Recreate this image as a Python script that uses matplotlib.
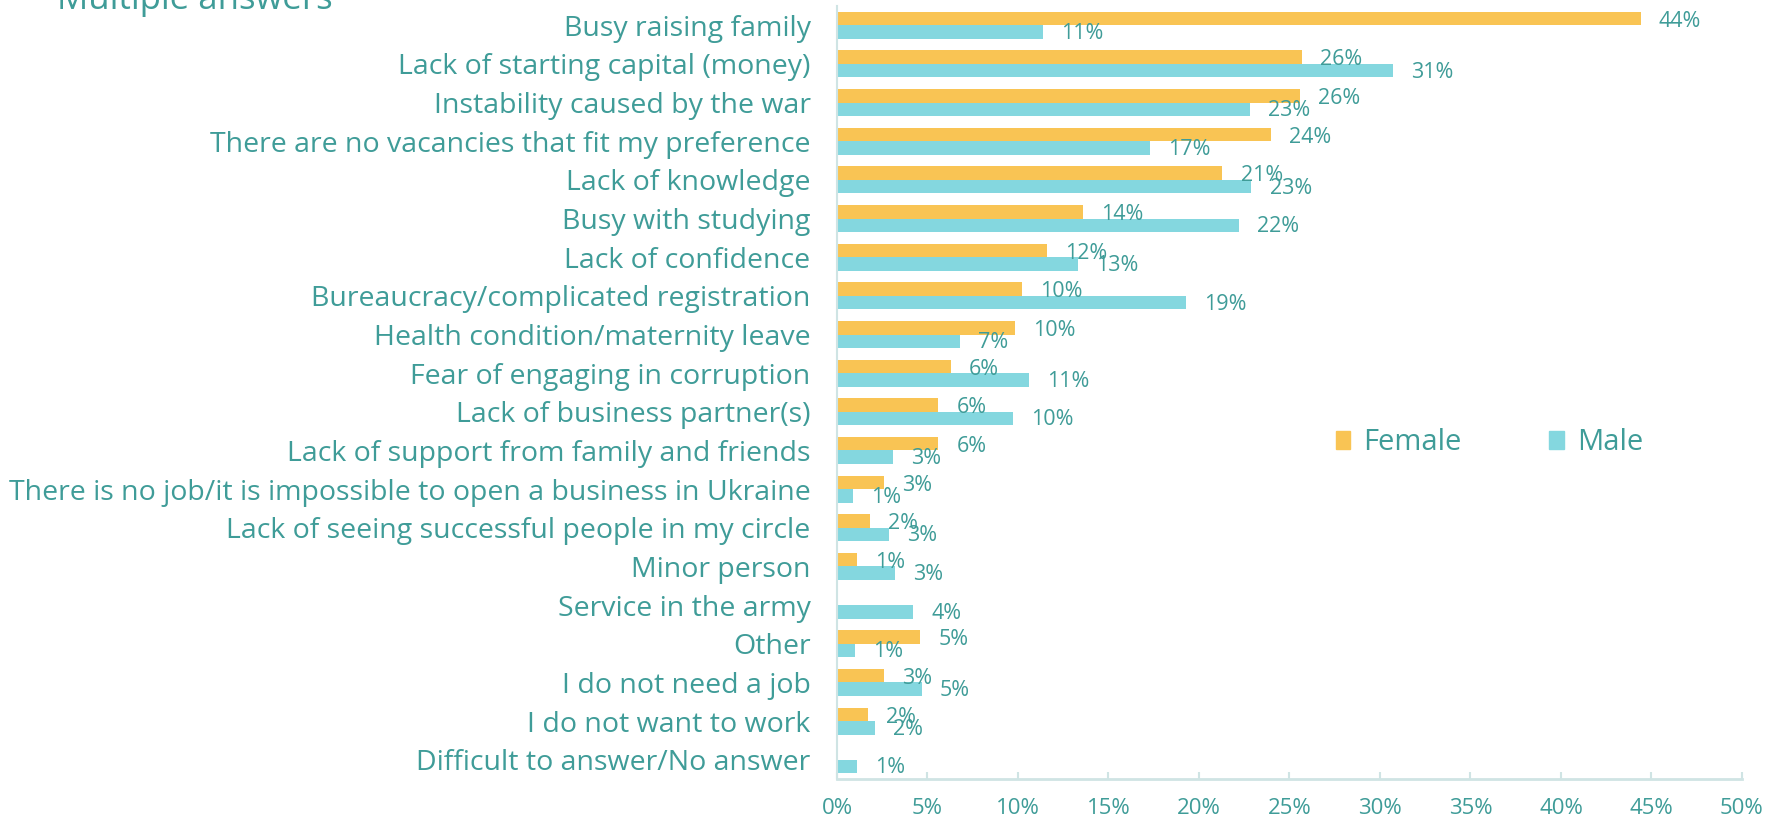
import matplotlib
matplotlib.use("Agg")
import matplotlib.pyplot as plt
from matplotlib.patches import Patch
import numpy as np

categories = [
    "Busy raising family",
    "Lack of starting capital (money)",
    "Instability caused by the war",
    "There are no vacancies that fit my preference",
    "Lack of knowledge",
    "Busy with studying",
    "Lack of confidence",
    "Bureaucracy/complicated registration",
    "Health condition/maternity leave",
    "Fear of engaging in corruption",
    "Lack of business partner(s)",
    "Lack of support from family and friends",
    "There is no job/it is impossible to open a business in Ukraine",
    "Lack of seeing successful people in my circle",
    "Minor person",
    "Service in the army",
    "Other",
    "I do not need a job",
    "I do not want to work",
    "Difficult to answer/No answer",
]
female = [44.4, 25.7, 25.6, 24.0, 21.3, 13.6, 11.6, 10.2, 9.85, 6.3,
          5.6, 5.6, 2.6, 1.8, 1.1, None, 4.6, 2.6, 1.7, None]
male = [11.4, 30.7, 22.8, 17.3, 22.9, 22.2, 13.3, 19.3, 6.8, 10.6,
        9.7, 3.1, 0.9, 2.9, 3.2, 4.2, 1.0, 4.7, 2.1, 1.1]
series_names = ["Female", "Male"]
xticks = [0, 5, 10, 15, 20, 25, 30, 35, 40, 45, 50]
title_text = "Multiple answers"

YELLOW = "#F9C454"
CYAN = "#84D7DF"
TEXT = "#3F9C98"
AXIS = "#CFE4E4"

plt.rcParams["font.family"] = ["Open Sans", "DejaVu Sans"]

fig = plt.figure(figsize=(17.71, 8.17), dpi=100)
ax = fig.add_axes([0.4726, 0.0465, 0.5110, 0.9462])

n = len(categories)
y = np.arange(n)
h = 0.35
fem_vals = [v if v is not None else 0 for v in female]
ax.barh(y - h / 2, fem_vals, height=h, color=YELLOW, label=series_names[0])
ax.barh(y + h / 2, male, height=h, color=CYAN, label=series_names[1])

for yi, v in zip(y, female):
    if v is not None:
        ax.annotate(f"{v:.0f}%", (v, yi - h / 2), xytext=(13, -2),
                    textcoords="offset points", va="center", ha="left",
                    color=TEXT, fontsize=15.5)
for yi, v in zip(y, male):
    ax.annotate(f"{v:.0f}%", (v, yi + h / 2), xytext=(13, -1),
                textcoords="offset points", va="center", ha="left",
                color=TEXT, fontsize=15.5)

ax.set_ylim(n - 0.5, -0.5)
ax.set_xlim(0, 50)
ax.set_yticks(y)
ax.set_yticklabels(categories, fontsize=20.5, color=TEXT)
ax.set_xticks(xticks)
ax.set_xticklabels([f"{t}%" for t in xticks], fontsize=16, color=TEXT)
ax.tick_params(axis="y", length=0, pad=19)
ax.tick_params(axis="x", direction="in", length=5, color=AXIS, width=1.5, pad=13.5)

for side in ["top", "right"]:
    ax.spines[side].set_visible(False)
ax.spines["left"].set_color(AXIS)
ax.spines["bottom"].set_color(AXIS)
ax.spines["left"].set_linewidth(1.5)
ax.spines["bottom"].set_linewidth(2)

handles = [Patch(color=YELLOW), Patch(color=CYAN)]
ax.legend(handles, series_names, loc="center left", bbox_to_anchor=(0.522, 0.435),
          ncol=2, frameon=False, fontsize=21, labelcolor=TEXT,
          handlelength=0.5, handleheight=0.55, handletextpad=0.45,
          columnspacing=3.0)

fig.text(0.032, 0.979, title_text, fontsize=25, color=TEXT, ha="left", va="bottom")

fig.savefig("out.png", dpi=100)
